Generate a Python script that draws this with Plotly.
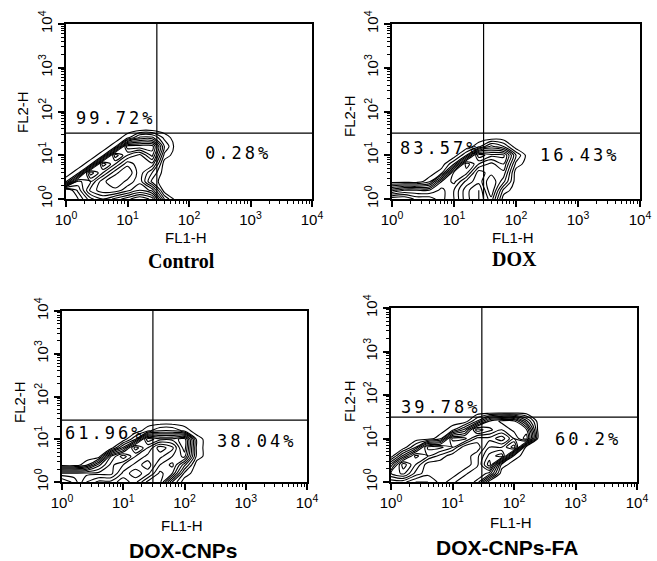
import numpy as np
import plotly.graph_objects as go

# ---------------- data ----------------
panel_titles = ["Control", "DOX", "DOX-CNPs", "DOX-CNPs-FA"]
upper_left_pct = ["99.72%", "83.57%", "61.96%", "39.78%"]
lower_right_pct = ["0.28%", "16.43%", "38.04%", "60.2%"]
gate_fl1 = [30, 30, 30.5, 30]
gate_fl2 = [32, 32, 28, 31]

# contour grid (decades of FL1-H / FL2-H)
grid_log_fl1 = [0.0, 0.2, 0.4, 0.6, 0.8, 1.0, 1.2, 1.4, 1.6, 1.8, 2.0, 2.2, 2.4, 2.6, 2.8]
grid_log_fl2 = [0.0, 0.2, 0.4, 0.6, 0.8, 1.0, 1.2, 1.4, 1.6, 1.8, 2.0]

# relative event density (rows = FL2 grid from bottom, cols = FL1 grid)
density_control = [
    [9, 8, 6, 5, 6, 7, 8, 7, 2, 0, 0, 0, 0, 0, 0],
    [9, 7, 4, 3, 3, 4, 5, 4, 0, 0, 0, 0, 0, 0, 0],
    [1, 6, 5, 3, 2, 3, 4, 1, 0, 0, 0, 0, 0, 0, 0],
    [0, 1, 7, 5, 3, 2, 4, 2, 0, 0, 0, 0, 0, 0, 0],
    [0, 0, 1, 7, 5, 3, 4, 4, 0, 0, 0, 0, 0, 0, 0],
    [0, 0, 0, 1, 7, 5, 4, 6, 1, 0, 0, 0, 0, 0, 0],
    [0, 0, 0, 0, 1, 7, 7, 7, 2, 0, 0, 0, 0, 0, 0],
    [0, 0, 0, 0, 0, 1, 3, 3, 1, 0, 0, 0, 0, 0, 0],
    [0, 0, 0, 0, 0, 0, 0, 0, 0, 0, 0, 0, 0, 0, 0],
    [0, 0, 0, 0, 0, 0, 0, 0, 0, 0, 0, 0, 0, 0, 0],
    [0, 0, 0, 0, 0, 0, 0, 0, 0, 0, 0, 0, 0, 0, 0],
]
density_dox = [
    [8, 8, 7, 7, 6, 5, 3, 2, 4, 0, 0, 0, 0, 0, 0],
    [4, 5, 5, 5, 6, 5, 3, 2, 5, 1, 0, 0, 0, 0, 0],
    [0, 0, 0, 1, 5, 6, 4, 3, 5, 3, 0, 0, 0, 0, 0],
    [0, 0, 0, 0, 1, 6, 6, 3, 4, 4, 0, 0, 0, 0, 0],
    [0, 0, 0, 0, 0, 2, 7, 5, 4, 5, 1, 0, 0, 0, 0],
    [0, 0, 0, 0, 0, 0, 2, 7, 6, 6, 2, 0, 0, 0, 0],
    [0, 0, 0, 0, 0, 0, 0, 1, 3, 2, 0, 0, 0, 0, 0],
    [0, 0, 0, 0, 0, 0, 0, 0, 0, 0, 0, 0, 0, 0, 0],
    [0, 0, 0, 0, 0, 0, 0, 0, 0, 0, 0, 0, 0, 0, 0],
    [0, 0, 0, 0, 0, 0, 0, 0, 0, 0, 0, 0, 0, 0, 0],
    [0, 0, 0, 0, 0, 0, 0, 0, 0, 0, 0, 0, 0, 0, 0],
]
density_dox_cnps = [
    [8, 7, 5, 4, 4, 3, 4, 6, 6, 2, 0, 0, 0, 0, 0],
    [6, 6, 6, 6, 6, 4, 3, 4, 6, 5, 1, 0, 0, 0, 0],
    [0, 0, 1, 4, 6, 5, 4, 3, 5, 6, 3, 0, 0, 0, 0],
    [0, 0, 0, 0, 5, 7, 5, 4, 4, 5, 6, 1, 0, 0, 0],
    [0, 0, 0, 0, 0, 3, 7, 5, 3, 4, 7, 1, 0, 0, 0],
    [0, 0, 0, 0, 0, 0, 2, 7, 6, 6, 7, 1, 0, 0, 0],
    [0, 0, 0, 0, 0, 0, 0, 1, 2, 2, 1, 0, 0, 0, 0],
    [0, 0, 0, 0, 0, 0, 0, 0, 0, 0, 0, 0, 0, 0, 0],
    [0, 0, 0, 0, 0, 0, 0, 0, 0, 0, 0, 0, 0, 0, 0],
    [0, 0, 0, 0, 0, 0, 0, 0, 0, 0, 0, 0, 0, 0, 0],
    [0, 0, 0, 0, 0, 0, 0, 0, 0, 0, 0, 0, 0, 0, 0],
]
density_dox_cnps_fa = [
    [3, 3, 2, 2, 3, 4, 5, 4, 0, 0, 0, 0, 0, 0, 0],
    [5, 6, 4, 3, 3, 3, 4, 5, 4, 0, 0, 0, 0, 0, 0],
    [3, 7, 5, 3, 3, 3, 3, 4, 7, 1, 0, 0, 0, 0, 0],
    [0, 3, 6, 5, 4, 3, 3, 4, 6, 7, 1, 0, 0, 0, 0],
    [0, 0, 2, 6, 6, 5, 3, 3, 5, 5, 7, 0, 0, 0, 0],
    [0, 0, 0, 0, 1, 6, 6, 4, 4, 3, 5, 7, 0, 0, 0],
    [0, 0, 0, 0, 0, 1, 3, 7, 6, 5, 6, 6, 0, 0, 0],
    [0, 0, 0, 0, 0, 0, 0, 2, 5, 6, 6, 3, 0, 0, 0],
    [0, 0, 0, 0, 0, 0, 0, 0, 0, 0, 0, 0, 0, 0, 0],
    [0, 0, 0, 0, 0, 0, 0, 0, 0, 0, 0, 0, 0, 0, 0],
    [0, 0, 0, 0, 0, 0, 0, 0, 0, 0, 0, 0, 0, 0, 0],
]
densities = [density_control, density_dox, density_dox_cnps, density_dox_cnps_fa]

major_ticks = [1, 10, 100, 1000, 10000]
major_exponents = ["0", "1", "2", "3", "4"]
minor_ticks = [m * 10 ** e for e in range(4) for m in range(2, 10)]

# ---------------- layout config ----------------
W, H = 657, 561
# plot boxes in pixels: left, right, top, bottom
boxes = [(66, 312, 24, 199), (392, 640, 24, 199), (62, 307, 311, 482), (391, 637, 308, 482)]
# label positions (decades)
ul_pos = [(0.81, 1.85), (0.77, 1.17), (0.70, 1.15), (0.80, 1.72)]
lr_pos = [(2.80, 1.05), (3.03, 1.00), (3.17, 0.96), (3.20, 0.99)]
title_px = [(181, 261), (514, 259), (183, 550), (507, 547)]
xlab_px = [(186, 237), (513, 237), (182, 525), (511, 522)]
ylab_px = [(22, 112), (349, 116), (19, 402), (349, 401)]
title_fonts = [dict(family="Liberation Serif", size=20, color="black"),
               dict(family="Liberation Serif", size=20, color="black"),
               dict(family="Liberation Sans", size=21, color="black"),
               dict(family="Liberation Sans", size=21, color="black")]

major_labels = ["10<sup>%s</sup>" % e for e in major_exponents]

fig = go.Figure()
lfl1 = np.array(grid_log_fl1)
lfl2 = np.array(grid_log_fl2)
annotations = []

for i in range(4):
    xa = "x" if i == 0 else f"x{i+1}"
    ya = "y" if i == 0 else f"y{i+1}"
    fig.add_trace(go.Contour(
        x=10 ** lfl1, y=10 ** lfl2, z=densities[i],
        xaxis=xa, yaxis=ya,
        contours=dict(coloring="lines", start=0.5, end=8.5, size=0.75),
        colorscale=[[0, "black"], [1, "black"]],
        line=dict(width=1.1, smoothing=0.8),
        showscale=False, hoverinfo="skip",
    ))
    # quadrant gates
    fig.add_trace(go.Scatter(x=[gate_fl1[i], gate_fl1[i]], y=[1, 10000], mode="lines",
                             line=dict(color="black", width=1.2), xaxis=xa, yaxis=ya,
                             showlegend=False, hoverinfo="skip"))
    fig.add_trace(go.Scatter(x=[1, 10000], y=[gate_fl2[i], gate_fl2[i]], mode="lines",
                             line=dict(color="black", width=1.2), xaxis=xa, yaxis=ya,
                             showlegend=False, hoverinfo="skip"))

    l, r, t, b = boxes[i]
    axis_common = dict(type="log", range=[0, 4], showgrid=False, zeroline=False, automargin=False,
                       showline=True, linecolor="black", linewidth=2, mirror=True,
                       ticks="outside", ticklen=6, tickwidth=1.5, tickcolor="black",
                       tickmode="array", tickvals=major_ticks, ticktext=major_labels,
                       tickfont=dict(family="Liberation Sans", size=15, color="black"),
                       minor=dict(tickmode="array", tickvals=minor_ticks, ticks="outside",
                                  ticklen=3, tickwidth=1, tickcolor="black"))
    fig.layout[xa.replace("x", "xaxis")] = dict(axis_common, domain=[l / W, r / W], anchor=ya)
    fig.layout[ya.replace("y", "yaxis")] = dict(axis_common, domain=[1 - b / H, 1 - t / H],
                                                anchor=xa, tickangle=-90)

    pct_font = dict(family="DejaVu Sans Mono", size=17, color="black")
    common = dict(showarrow=False, xanchor="center", yanchor="middle")
    annotations.append(dict(common, text="<span style='letter-spacing:3px'>%s</span>" % upper_left_pct[i],
                            x=ul_pos[i][0], y=ul_pos[i][1], xref=xa, yref=ya, font=pct_font))
    annotations.append(dict(common, text="<span style='letter-spacing:3px'>%s</span>" % lower_right_pct[i],
                            x=lr_pos[i][0], y=lr_pos[i][1], xref=xa, yref=ya, font=pct_font))
    annotations.append(dict(common, text="<b>%s</b>" % panel_titles[i],
                            x=title_px[i][0] / W, y=1 - title_px[i][1] / H,
                            xref="paper", yref="paper", font=title_fonts[i]))
    annotations.append(dict(common, text="FL1-H", x=xlab_px[i][0] / W, y=1 - xlab_px[i][1] / H,
                            xref="paper", yref="paper",
                            font=dict(family="Liberation Sans", size=15, color="black")))
    annotations.append(dict(common, text="FL2-H", x=ylab_px[i][0] / W, y=1 - ylab_px[i][1] / H,
                            xref="paper", yref="paper", textangle=-90,
                            font=dict(family="Liberation Sans", size=15, color="black")))

fig.update_layout(width=W, height=H, margin=dict(l=0, r=0, t=0, b=0),
                  paper_bgcolor="white", plot_bgcolor="white", showlegend=False,
                  annotations=annotations)
fig.write_html("out.html")
